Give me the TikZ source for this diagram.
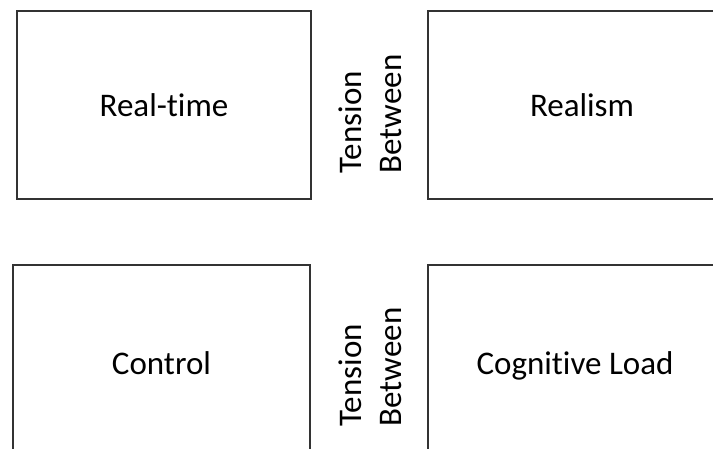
\documentclass[tikz,border=0pt]{standalone}
\usepackage{fontspec}
\setmainfont[RawFeature=-liga]{Carlito}
\tikzset{
  pane/.style={draw=black!80, line width=2pt, inner sep=0pt, text height=26pt, text depth=3pt},
  betweentag/.style={rotate=90, align=left, inner sep=0pt}
}
\begin{document}
\begin{tikzpicture}[x=1pt, y=-1pt, font=\fontsize{33}{40}\selectfont]
  \useasboundingbox (0, 0) rectangle (713, 448);
  % top row
  \node[pane, minimum width=294pt, minimum height=188pt] (realtime) at (164, 105) {Real-time};
  \node[pane, minimum width=308pt, minimum height=188pt] (realism) at (582, 105) {Realism};
  \node[betweentag] (tensiontop) at (370, 114) {Tension\\Between};
  % bottom row
  \node[pane, minimum width=297pt, minimum height=196pt] (control) at (161.5, 363) {Control};
  \node[pane, minimum width=294pt, minimum height=196pt] (load) at (575, 363) {Cognitive Load};
  \node[betweentag] (tensionbottom) at (370, 367) {Tension\\Between};
\end{tikzpicture}
\end{document}
